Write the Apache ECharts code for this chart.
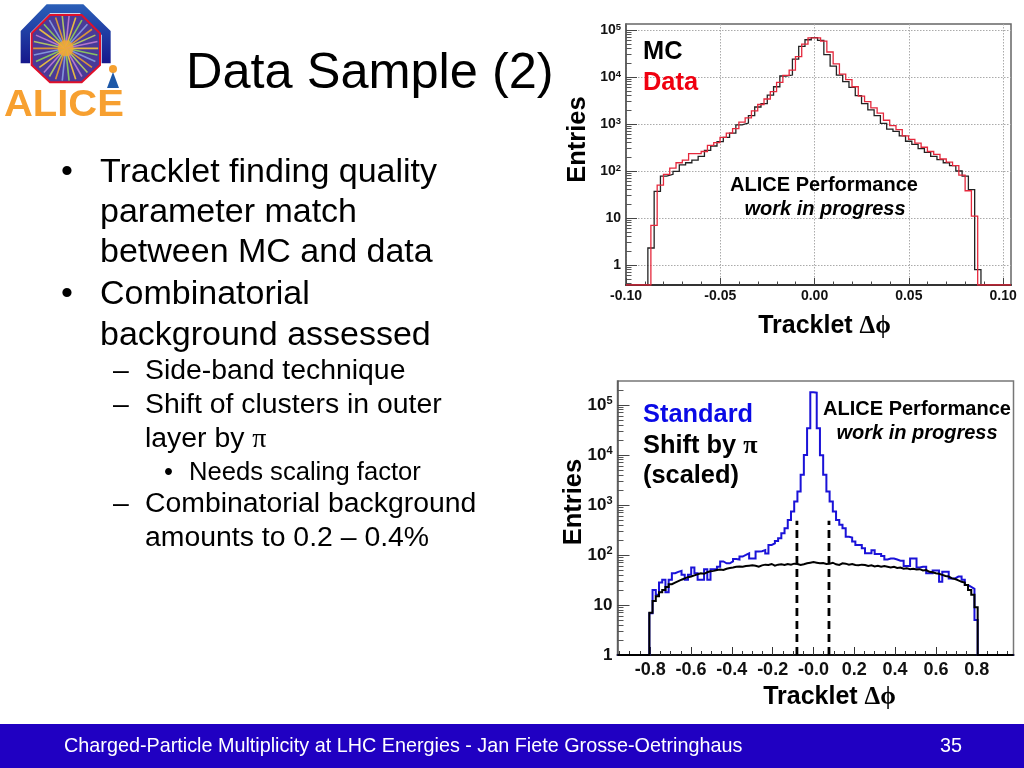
<!DOCTYPE html>
<html><head><meta charset="utf-8">
<style>html,body{margin:0;padding:0;background:#fff}#c{width:1024px;height:768px}</style>
<script src="https://cdn.jsdelivr.net/npm/echarts@6/dist/echarts.min.js"></script>
</head><body><div id="c"></div>
<script>
// ---- top panel data (entries per bin)
const mcStart = -0.0884, dataStart = -0.0868, topBin = 1/300;
const mcValues = [2.3,37,78,85,98,135,150,170,205,275,340,420,520,640,960,1050,1500,2300,2700,4100,6200,10500,11000,24000,45000,62000,69000,60000,30000,17000,11000,8000,6000,4000,2700,2000,1500,1030,780,700,560,430,370,300,250,205,175,150,130,100,78,40,0.8];
const dataValues = [7,50,85,115,150,170,235,235,260,350,400,520,640,800,1100,1350,1900,2600,3400,4900,7700,10800,14000,27000,50000,68000,68000,58000,34000,19000,11500,8800,6200,3900,3000,2200,1700,1200,920,760,560,470,390,320,260,225,180,155,130,82,38,11];
// ---- bottom panel data
const botStart = -0.804, botBin = 0.01577;
const standardValues = [6.8,20,16,28,32,18,32,43,46,48,40,32,40,56,43,32,32,52,32,52,52,58,74,68,68,74,83,81,93,100,108,85,85,117,119,125,107,158,170,190,215,270,340,500,740,1170,1860,4000,10000,34000,178000,175000,34000,9800,4000,1860,1170,740,500,400,340,232,224,186,158,158,136,108,108,124,105,105,95,81,85,85,81,77,77,60,60,85,85,56,58,58,43,43,49,49,29,46,46,34,34,37,37,32,25,23,21,5];
const shiftedValues = [7,12,15,18,20,23,26,28,30,32,34,36,37,39,41,43,42,45,47,48,50,51,50,53,55,56,58,59,58,60,61,62,61,58,62,64,63,66,61,64,65,63,66,64,67,66,63,65,68,70,72,70,68,69,66,67,70,65,63,68,67,64,66,63,62,64,63,60,62,59,61,58,60,58,56,58,55,56,53,54,52,53,51,52,49,50,46,45,43,42,40,38,37,34,33,31,29,28,25,20,16,9];
const sideBandEdges = [-0.081, 0.076];
const sideBandTop = 480;
// ---- tick values
const topXTicks = [-0.10,-0.05,0,0.05,0.10];
const topXMinor = [-0.09,-0.08,-0.07,-0.06,-0.04,-0.03,-0.02,-0.01,0.01,0.02,0.03,0.04,0.06,0.07,0.08,0.09];
const botXTicks = [-0.8,-0.6,-0.4,-0.2,0,0.2,0.4,0.6,0.8];
const botXMinor = [-0.95,-0.9,-0.85,-0.75,-0.7,-0.65,-0.55,-0.5,-0.45,-0.35,-0.3,-0.25,-0.15,-0.1,-0.05,0.05,0.1,0.15,0.25,0.3,0.35,0.45,0.5,0.55,0.65,0.7,0.75,0.85,0.9,0.95];
const topYTicks = [1,10,100,1000,10000,100000];
const botYTicks = [1,10,100,1000,10000,100000];
const minorMult = [2,3,4,5,6,7,8,9];
// ---- slide text
const titleText = 'Data Sample (2)';
const bullets = [
 ['•','Tracklet finding quality',173,1],['','parameter match',213,1],['','between MC and data',253,1],
 ['•','Combinatorial',295,1],['','background assessed',336,1],
 ['–','Side-band technique',371.5,2],['–','Shift of clusters in outer',405.5,2],['','layer by {p|π}',439.5,2],
 ['•','Needs scaling factor',473,3],
 ['–','Combinatorial background',504.5,2],['','amounts to 0.2 – 0.4%',538.5,2]
];
const footerText = 'Charged-Particle Multiplicity at LHC Energies - Jan Fiete Grosse-Oetringhaus';
const pageNumber = '35';

const SANS = '"Liberation Sans", Arial, sans-serif';
function steps(start,w,vals,xmin,xmax,floor){
  const p=[[xmin,floor],[start,floor]];
  vals.forEach((v,i)=>{p.push([start+i*w,v],[start+(i+1)*w,v]);});
  const end=start+vals.length*w;
  p.push([end,floor],[xmax,floor]);
  return p;
}
function minorDecades(lo,hi){const r=[];for(let d=lo;d<=hi;d*=10)minorMult.forEach(m=>r.push(d*m));return r;}
function decadeLabel(v){
  const e=Math.round(Math.log10(v));
  if(e===0)return '1'; if(e===1)return '10';
  return '10{s|'+e+'}';
}
const T={xmin:-0.1,xmax:0.1042,ymin:0.376,ymax:134000};
const B={xmin:-0.96,xmax:0.98,ymin:1,ymax:300000};

function lineSeries(name,pts,color,width,xi,yi,z){
  return {name,type:'line',data:pts,xAxisIndex:xi,yAxisIndex:yi,showSymbol:false,symbol:'none',
    lineStyle:{color,width,join:'miter'},clip:true,silent:true,z:z||3};
}
const titleFont={fontFamily:SANS,fontWeight:'bold',fontSize:25.5,color:'#000'};
const axisTitleFont={fontFamily:SANS,fontWeight:'bold',fontSize:25,color:'#000'};
const greekRich={g:{fontFamily:'"Liberation Serif","DejaVu Serif",serif',fontSize:25,fontWeight:'bold',color:'#000'}};
const hiddenLine={show:false,onZero:false};

const option={
 animation:false,backgroundColor:'#fff',
 grid:[
  {left:626,top:24,width:385,height:261,show:true,borderColor:'#666',borderWidth:1.5,backgroundColor:'transparent'},
  {left:617.5,top:381,width:396,height:274,show:true,borderColor:'#777',borderWidth:1.5,backgroundColor:'transparent'}
 ],
 xAxis:[
  {type:'value',gridIndex:0,position:'bottom',min:T.xmin,max:T.xmax,
   name:'Tracklet {g|Δϕ}',nameLocation:'middle',nameGap:29,
   nameTextStyle:Object.assign({},axisTitleFont,{rich:greekRich,padding:[0,0,0,12]}),
   axisLine:{show:true,onZero:false,lineStyle:{color:'#333',width:2}},
   axisTick:{show:true,inside:true,length:7,customValues:topXTicks,lineStyle:{color:'#444',width:1}},
   axisLabel:{customValues:topXTicks,showMinLabel:true,showMaxLabel:true,hideOverlap:false,margin:4,fontFamily:SANS,fontWeight:'bold',fontSize:14,color:'#111',formatter:v=>v.toFixed(2)},
   splitLine:{show:true,lineStyle:{color:'#aaa',type:[1.5,1.5],width:1}}},
  {type:'value',gridIndex:0,position:'bottom',min:T.xmin,max:T.xmax,
   axisLine:hiddenLine,axisLabel:{show:false},splitLine:{show:false},
   axisTick:{show:true,inside:true,length:3.5,customValues:topXMinor,lineStyle:{color:'#444',width:1}}},
  {type:'value',gridIndex:1,position:'bottom',min:B.xmin,max:B.xmax,
   name:'Tracklet {g|Δϕ}',nameLocation:'middle',nameGap:30,
   nameTextStyle:Object.assign({},axisTitleFont,{rich:greekRich,padding:[0,0,0,28]}),
   axisLine:{show:true,onZero:false,lineStyle:{color:'#111',width:2}},
   axisTick:{show:true,inside:true,length:8,customValues:botXTicks,lineStyle:{color:'#333',width:1}},
   axisLabel:{customValues:botXTicks,hideOverlap:false,margin:6,fontFamily:SANS,fontWeight:'bold',fontSize:18,color:'#111',formatter:v=>v===0?'-0.0':v.toFixed(1)},
   splitLine:{show:false}},
  {type:'value',gridIndex:1,position:'bottom',min:B.xmin,max:B.xmax,
   axisLine:hiddenLine,axisLabel:{show:false},splitLine:{show:false},
   axisTick:{show:true,inside:true,length:4,customValues:botXMinor,lineStyle:{color:'#333',width:1}}}
 ],
 yAxis:[
  {type:'log',logBase:10,gridIndex:0,position:'left',min:T.ymin,max:T.ymax,
   name:'Entries',nameLocation:'middle',nameRotate:90,nameGap:35,nameMoveOverlap:false,nameTextStyle:Object.assign({},titleFont,{padding:[0,0,0,30]}),
   axisLine:{show:true,onZero:false,lineStyle:{color:'#555',width:1.5}},
   axisTick:{show:true,inside:true,length:11,customValues:topYTicks,lineStyle:{color:'#444',width:1}},
   axisLabel:{customValues:topYTicks,hideOverlap:false,margin:5,fontFamily:SANS,fontWeight:'bold',fontSize:14,color:'#111',formatter:decadeLabel,
     rich:{s:{fontFamily:SANS,fontWeight:'bold',fontSize:9.5,color:'#111',verticalAlign:'top',padding:[0,0,6,0]}}},
   splitLine:{show:true,lineStyle:{color:'#aaa',type:[1.5,1.5],width:1}}},
  {type:'log',logBase:10,gridIndex:0,position:'left',min:T.ymin,max:T.ymax,
   axisLine:hiddenLine,axisLabel:{show:false},splitLine:{show:false},
   axisTick:{show:true,inside:true,length:5.5,customValues:[0.4,0.5,0.6,0.7,0.8,0.9].concat(minorDecades(1,10000)),lineStyle:{color:'#555',width:1}}},
  {type:'log',logBase:10,gridIndex:1,position:'left',min:B.ymin,max:B.ymax,
   name:'Entries',nameLocation:'middle',nameRotate:90,nameGap:31,nameMoveOverlap:false,nameTextStyle:Object.assign({},titleFont,{padding:[0,0,0,32]}),
   axisLine:{show:true,onZero:false,lineStyle:{color:'#555',width:1.5}},
   axisTick:{show:true,inside:true,length:12,customValues:botYTicks,lineStyle:{color:'#444',width:1}},
   axisLabel:{customValues:botYTicks,hideOverlap:false,margin:5,fontFamily:SANS,fontWeight:'bold',fontSize:17,color:'#111',formatter:decadeLabel,
     rich:{s:{fontFamily:SANS,fontWeight:'bold',fontSize:11,color:'#111',verticalAlign:'top',padding:[0,0,7,0]}}},
   splitLine:{show:false}},
  {type:'log',logBase:10,gridIndex:1,position:'left',min:B.ymin,max:B.ymax,
   axisLine:hiddenLine,axisLabel:{show:false},splitLine:{show:false},
   axisTick:{show:true,inside:true,length:6,customValues:minorDecades(1,100000).filter(v=>v<B.ymax),lineStyle:{color:'#555',width:1}}}
 ],
 series:[
  lineSeries('MC',steps(mcStart,topBin,mcValues,T.xmin,T.xmax,T.ymin),'#222',1.3,0,0,3),
  lineSeries('Data',steps(dataStart,topBin,dataValues,T.xmin,T.xmax,T.ymin),'#e5283c',1.3,0,0,4),
  lineSeries('Standard',steps(botStart,botBin,standardValues,B.xmin,B.xmax,B.ymin),'#1a12d8',2,2,2,3),
  lineSeries('Shift by pi (scaled)',steps(botStart,botBin,shiftedValues,B.xmin,B.xmax,B.ymin),'#000',2,2,2,4),
  ...sideBandEdges.map(x=>({name:'side band',type:'line',data:[[x,B.ymin],[x,sideBandTop]],xAxisIndex:2,yAxisIndex:2,symbol:'none',showSymbol:false,
     lineStyle:{color:'#000',width:2.8,type:[8,5]},silent:true,z:5}))
 ],
 graphic:[]
};

// slide furniture
const g=[];
function txt(text,x,y,font,fill,extra){
  g.push({type:'text',silent:true,z:20,style:Object.assign({text,x,y,font,fill,textAlign:'left',textVerticalAlign:'middle'},extra||{})});
}
g.push({type:'rect',silent:true,z:1,shape:{x:0,y:724,width:1024,height:44},style:{fill:'#2000c2'}});
txt(titleText,186,74,'50.5px '+SANS,'#000');
const lvl={1:{font:'34px '+SANS,bx:61,tx:100},2:{font:'28.4px '+SANS,bx:113,tx:145},3:{font:'25.6px '+SANS,bx:164,tx:189}};
bullets.forEach(b=>{
  const L=lvl[b[3]];
  if(b[0])txt(b[0],L.bx,b[2],L.font,'#000');
  txt(b[1],L.tx,b[2],L.font,'#000',{rich:{p:{fontFamily:'"Liberation Serif",serif',fontSize:28,fill:'#000'}}});
});
txt(footerText,64,747,'19.8px '+SANS,'#fff');
txt(pageNumber,940,747,'19.8px '+SANS,'#fff');
// panel annotations
const BF='bold 25.4px '+SANS;
txt('MC',643,52,BF,'#000');
txt('Data',643,83,BF,'#f00010');
txt('ALICE Performance',824,185,'bold 20px '+SANS,'#000',{textAlign:'center'});
txt('work in progress',825,209,'italic bold 20px '+SANS,'#000',{textAlign:'center'});
txt('Standard',643,415,BF,'#0a0ae6');
txt('Shift by {p|π}',643,446,BF,'#000',{rich:{p:{fontFamily:'"Liberation Serif",serif',fontSize:26,fontWeight:'bold',fill:'#000'}}});
txt('(scaled)',643,476,BF,'#000');
txt('ALICE Performance',917,409,'bold 20px '+SANS,'#000',{textAlign:'center'});
txt('work in progress',917,433,'italic bold 20px '+SANS,'#000',{textAlign:'center'});
// ALICE logo (decoration)
const cx=197/3, cy=145/3, R=34;
const outer=[[62,190],[62,93],[140,13],[250,13],[332,93],[332,190],[305,190],[305,105],[240,40],[150,40],[90,100],[90,190]].map(p=>[p[0]/3,p[1]/3]);
const octa=[[150,45],[245,45],[300,100],[300,195],[245,247],[150,247],[95,195],[95,100]].map(p=>[p[0]/3,p[1]/3]);
g.push({type:'polygon',silent:true,z:10,shape:{points:outer},style:{fill:{type:'linear',x:0,y:0,x2:0,y2:1,colorStops:[{offset:0,color:'#2a5fb8'},{offset:1,color:'#16188c'}]}}});
g.push({type:'polygon',silent:true,z:11,shape:{points:octa},style:{fill:'#4a3a98',stroke:'#e0102a',lineWidth:2}});
const rayColors=['#f6c83a','#8fd05a','#8a9fe0','#e8a030','#b8d060','#c080d0'];
for(let i=0;i<30;i++){
  const a=i*Math.PI/15, r=R-1.5;
  g.push({type:'line',silent:true,z:12,shape:{x1:cx,y1:cy,x2:cx+r*Math.cos(a),y2:cy+r*Math.sin(a)},style:{stroke:rayColors[i%6],lineWidth:1.6,opacity:.9}});
}
g.push({type:'circle',silent:true,z:13,shape:{cx:cx,cy:cy,r:8},style:{fill:'#f5a830',opacity:.8}});
g.push({type:'circle',silent:true,z:13,shape:{cx:113,cy:69,r:4},style:{fill:'#f5a030'}});
g.push({type:'polygon',silent:true,z:13,shape:{points:[[113,72],[119,88],[107,88]]},style:{fill:'#1c58a8'}});
g.push({type:'text',silent:true,z:14,x:4,y:106,scaleX:1.11,style:{text:'ALICE',x:0,y:0,font:'bold 36px "Liberation Sans",Arial,sans-serif',fill:'#f7a030',textAlign:'left',textVerticalAlign:'middle'}});
option.graphic=g;

const chart=echarts.init(document.getElementById('c'),null,{renderer:'canvas',width:1024,height:768});
chart.setOption(option);
</script></body></html>
